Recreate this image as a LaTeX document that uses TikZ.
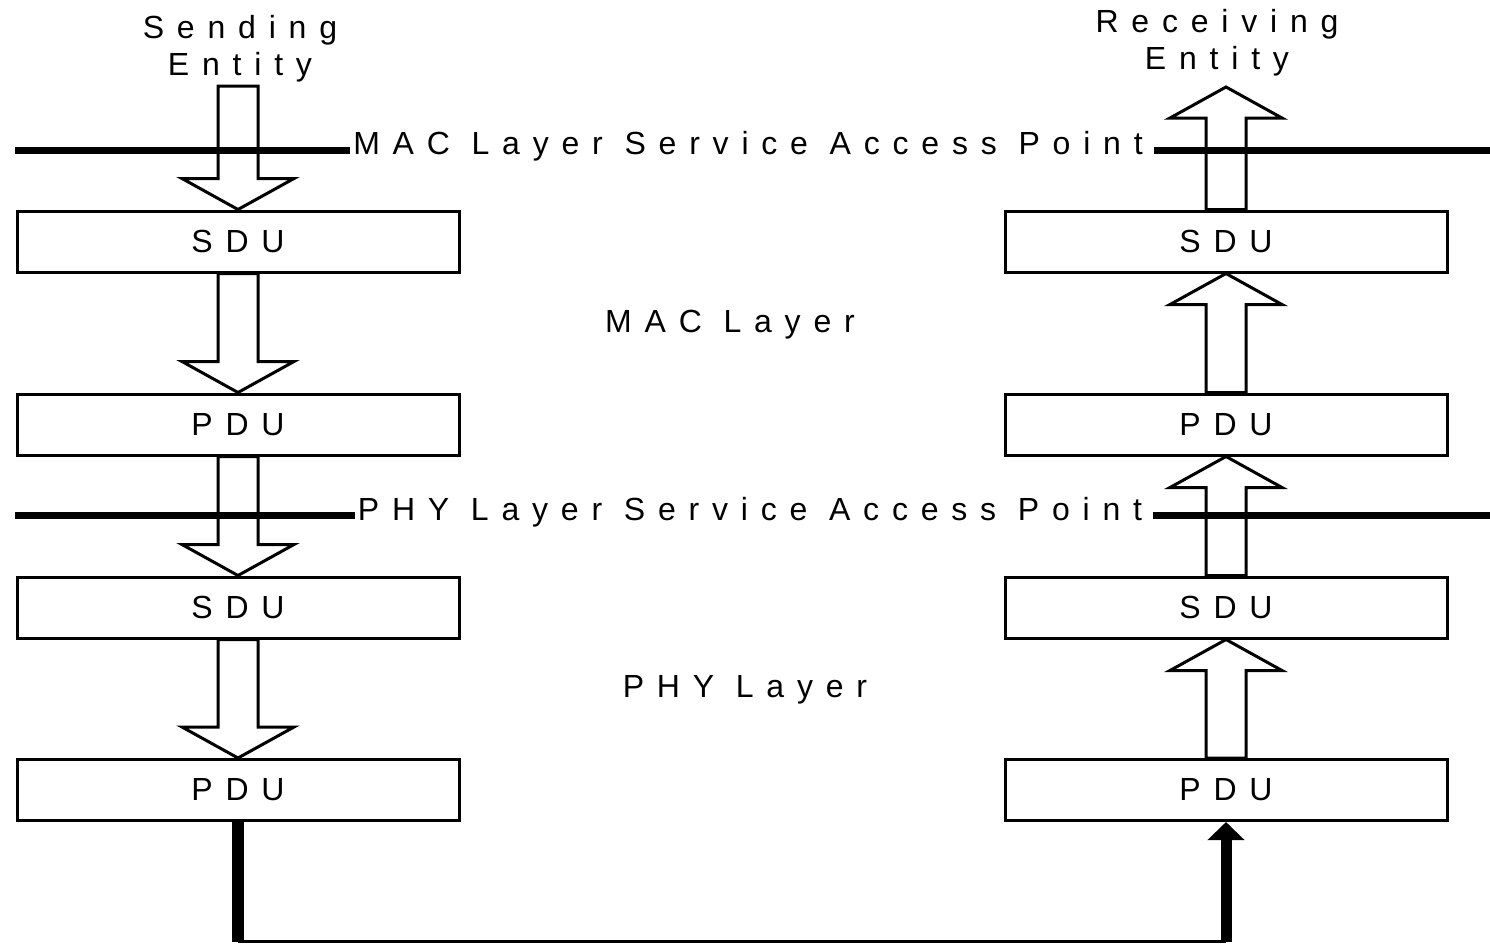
\documentclass[tikz,border=0pt]{standalone}
\usepackage{fontspec}
\setmainfont{Liberation Sans}
\newfontfamily\wideface{Liberation Sans}[LetterSpace=40]
\usetikzlibrary{arrows.meta,calc}

\tikzset{every picture/.style={line width=1.5pt}}
\tikzset{
  unitbox/.style={draw, line width=1.5pt, minimum width=221pt, minimum height=30.5pt, inner sep=0pt, font=\wideface\fontsize{16}{18.5}\selectfont},
  lbl/.style={inner sep=0.75pt, font=\wideface\fontsize{16}{18.5}\selectfont, align=center},
  hollow/.style={line width=1.5pt, line join=miter},
  sap/.style={line width=3.5pt},
}

% hollow block arrows, tip on the second point
\newcommand{\downarr}[2]{%
  \draw[hollow] let \p1=(#1), \p2=(#2) in
    (\x2-10pt,\y1) -- (\x2-10pt,\y2-15.5pt) -- (\x2-28pt,\y2-15.5pt) -- (\x2,\y2)
    -- (\x2+28pt,\y2-15.5pt) -- (\x2+10pt,\y2-15.5pt) -- (\x2+10pt,\y1) -- cycle ;}
\newcommand{\uparr}[2]{%
  \draw[hollow] let \p1=(#1), \p2=(#2) in
    (\x2-10pt,\y1) -- (\x2-10pt,\y2+15.5pt) -- (\x2-28pt,\y2+15.5pt) -- (\x2,\y2)
    -- (\x2+28pt,\y2+15.5pt) -- (\x2+10pt,\y2+15.5pt) -- (\x2+10pt,\y1) -- cycle ;}

\begin{document}
\begin{tikzpicture}[x=0.5pt,y=0.5pt,yscale=-1,xscale=1]
\useasboundingbox (0,0) rectangle (1490,944);

%Shape: Rectangle (sending side)
\node[unitbox] (sduL) at (238,241.5) {SDU};
\node[unitbox] (pduL) at (238,424.5) {PDU};
\node[unitbox] (sdupL) at (238,607.5) {SDU};
\node[unitbox] (pdupL) at (238,790) {PDU};
%Shape: Rectangle (receiving side)
\node[unitbox] (sduR) at (1226,241.5) {SDU};
\node[unitbox] (pduR) at (1226,424.5) {PDU};
\node[unitbox] (sdupR) at (1226,607.5) {SDU};
\node[unitbox] (pdupR) at (1226,790) {PDU};

% Text Node
\node[lbl] (sendlbl) at (240,49) {Sending\\Entity};
% Text Node
\node[lbl] (recvlbl) at (1217,43) {Receiving\\Entity};
% Text Node
\node[lbl] (macsap) at (748,146) {MAC Layer Service Access Point};
% Text Node
\node[lbl] (physap) at (750,512) {PHY Layer Service Access Point};
% Text Node
\node[lbl] (maclayer) at (730,325) {MAC Layer};
% Text Node
\node[lbl] (phylayer) at (745,690) {PHY Layer};

\coordinate (sendtop) at (238,86);
\coordinate (recvtop) at (1226,87);
\coordinate (macL) at (15,150);
\coordinate (macR) at (1490,150);
\coordinate (phyL) at (15,515);
\coordinate (phyR) at (1490,515);
\coordinate (linkL) at (238,941.5);
\coordinate (linkR) at (1226,941.5);

%Straight Lines (service access points)
\draw[sap] (macL) -- (macL -| macsap.west) ;
\draw[sap] ([xshift=4pt]macR -| macsap.east) -- (macR) ;
\draw[sap] (phyL) -- (phyL -| physap.west) ;
\draw[sap] ([xshift=4pt]phyR -| physap.east) -- (phyR) ;

%Block Arrows down
\downarr{sendtop}{sduL.north}
\downarr{sduL.south}{pduL.north}
\downarr{pduL.south}{sdupL.north}
\downarr{sdupL.south}{pdupL.north}
%Block Arrows up
\uparr{sduR.north}{recvtop}
\uparr{pduR.north}{sduR.south}
\uparr{sdupR.north}{pduR.south}
\uparr{pdupR.north}{sdupR.south}

%Straight Lines (medium)
\draw[line width=6pt] (pdupL.south) -- (linkL) ;
\draw[line width=1.75pt] (linkL) -- (linkR) ;
\draw[line width=5.5pt,-{Triangle[width=18pt,length=9pt]}] (linkR) -- (pdupR.south) ;

\end{tikzpicture}
\end{document}
